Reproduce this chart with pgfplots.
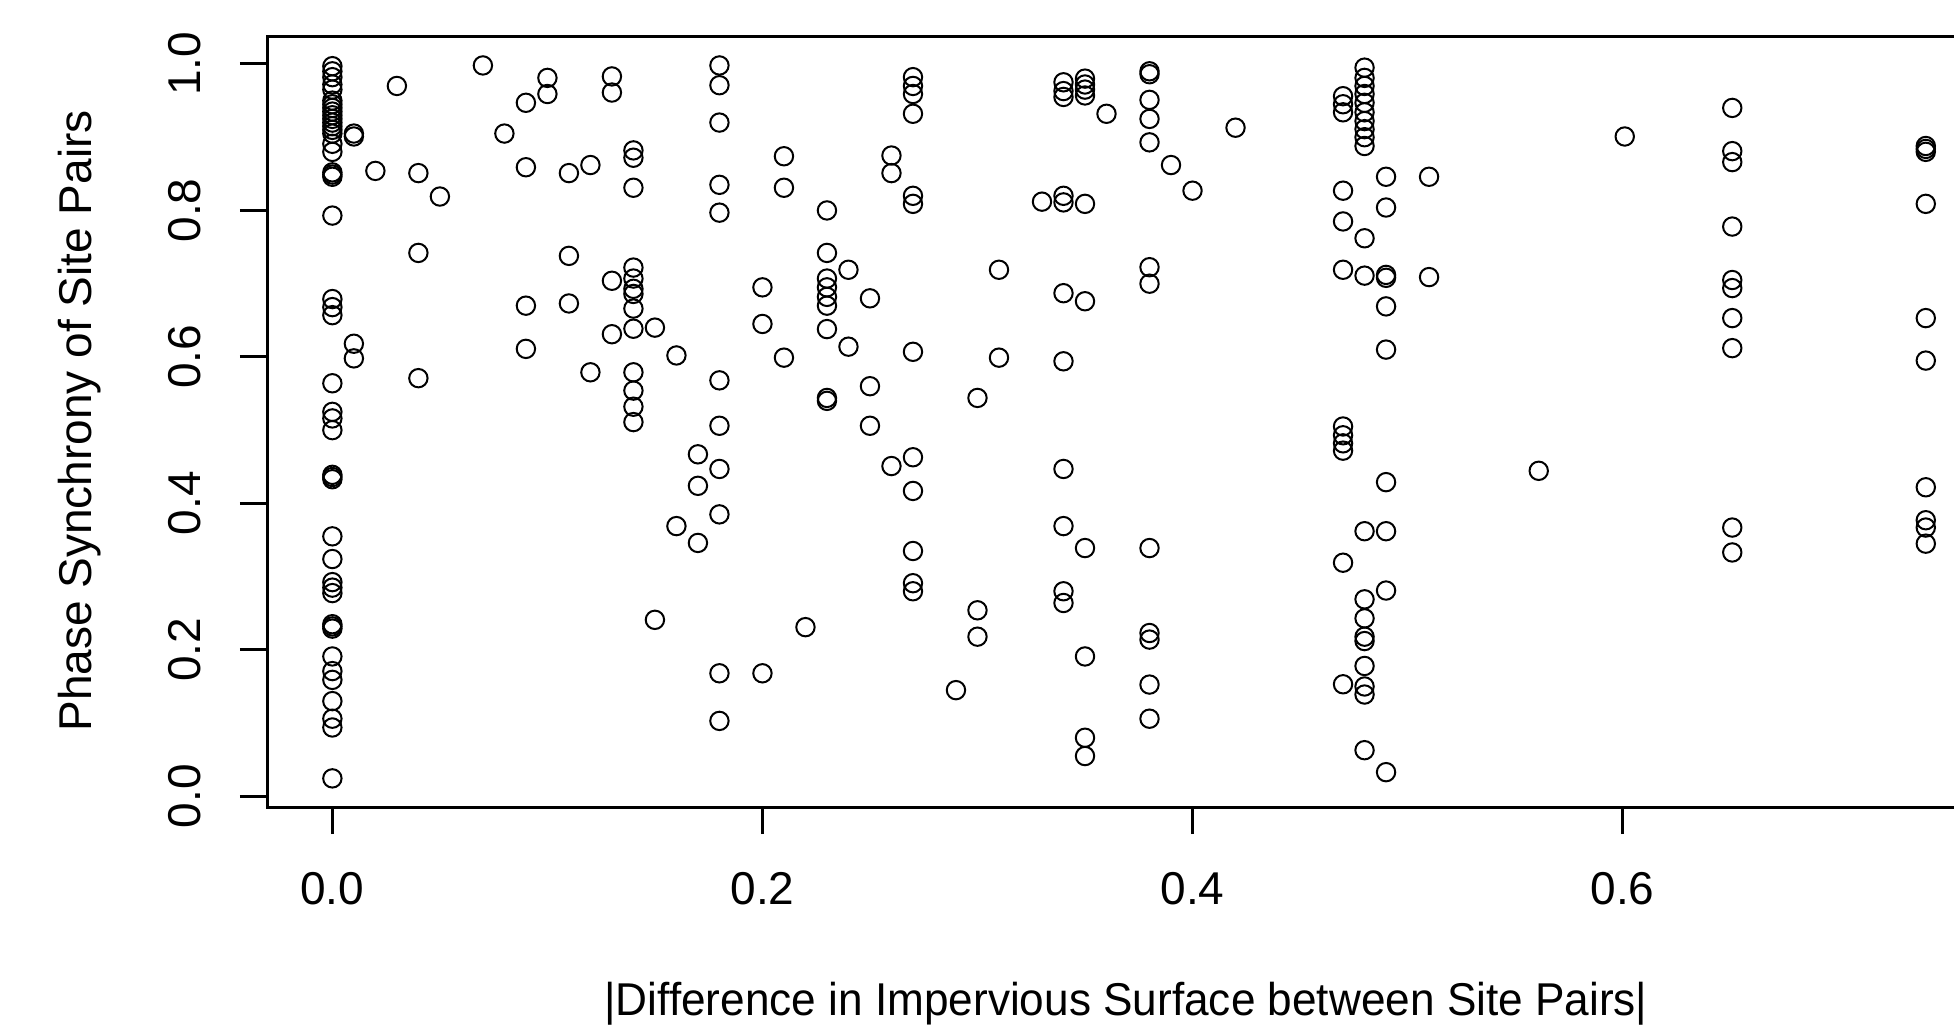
\documentclass[border=0pt]{standalone}
\usepackage{fontspec}
\setmainfont{Liberation Sans}
\usepackage{pgfplots}
\pgfplotsset{compat=1.18}
\newcommand{\lblfont}{\fontsize{11.5pt}{13.8pt}\selectfont}
\begin{document}
\begin{tikzpicture}
\path[use as bounding box] (-66.75pt,-55.75pt) rectangle (421.75pt,201.75pt);
\clip (-66.75pt,-55.75pt) rectangle (421.75pt,201.75pt);
\begin{axis}[
  at={(0pt,0pt)}, anchor=south west,
  scale only axis, width=441.25pt, height=192.75pt,
  xmin=-0.0304, xmax=0.7904, ymin=-0.0146, ymax=1.0382,
  axis line style={line width=0.75pt},
  every tick/.style={black, line width=0.75pt},
  tick align=outside, major tick length=6.75pt,
  xtick={0,0.2,0.4,0.6}, ytick={0,0.2,0.4,0.6,0.8,1.0},
  xtick pos=left, ytick pos=left,
  minor tick num=0,
  tick label style={font=\lblfont, inner sep=0pt},
  xticklabel style={anchor=north},
  yticklabel style={rotate=90, anchor=south},
  xticklabel shift=9.5pt, yticklabel shift=9.5pt,
  /pgf/number format/.cd, fixed, fixed zerofill, precision=1, assume math mode=true,
  /pgfplots/.cd,
  clip=false,
]
\addplot[only marks, mark=o, mark size=2.3pt, mark options={line width=0.5pt, black}] table {
x y
0 0.997
0 0.990
0 0.982
0 0.972
0 0.965
0 0.950
0 0.945
0 0.940
0 0.935
0 0.930
0 0.925
0 0.920
0 0.915
0 0.910
0 0.905
0 0.891
0 0.880
0 0.852
0 0.849
0 0.846
0 0.793
0 0.679
0 0.668
0 0.657
0 0.564
0 0.525
0 0.516
0 0.500
0 0.439
0 0.436
0 0.433
0 0.355
0 0.324
0 0.2925
0 0.285
0 0.2775
0 0.235
0 0.232
0 0.229
0 0.191
0 0.171
0 0.159
0 0.130
0 0.106
0 0.094
0 0.0245
0.01 0.905
0.01 0.901
0.01 0.618
0.01 0.598
0.02 0.854
0.03 0.970
0.04 0.851
0.04 0.742
0.04 0.571
0.05 0.819
0.07 0.998
0.08 0.905
0.09 0.947
0.09 0.859
0.09 0.670
0.09 0.611
0.10 0.981
0.10 0.959
0.11 0.851
0.11 0.738
0.11 0.673
0.12 0.862
0.12 0.579
0.13 0.983
0.13 0.961
0.13 0.704
0.13 0.631
0.14 0.882
0.14 0.872
0.14 0.831
0.14 0.722
0.14 0.707
0.14 0.693
0.14 0.686
0.14 0.666
0.14 0.6385
0.14 0.579
0.14 0.554
0.14 0.532
0.14 0.511
0.15 0.640
0.15 0.241
0.16 0.602
0.16 0.369
0.17 0.467
0.17 0.424
0.17 0.346
0.18 0.998
0.18 0.971
0.18 0.920
0.18 0.835
0.18 0.797
0.18 0.568
0.18 0.506
0.18 0.447
0.18 0.385
0.18 0.168
0.18 0.103
0.20 0.695
0.20 0.645
0.20 0.168
0.21 0.874
0.21 0.831
0.21 0.599
0.22 0.231
0.23 0.800
0.23 0.742
0.23 0.707
0.23 0.695
0.23 0.682
0.23 0.670
0.23 0.638
0.23 0.544
0.23 0.540
0.24 0.719
0.24 0.614
0.25 0.680
0.25 0.560
0.25 0.506
0.26 0.875
0.26 0.851
0.26 0.451
0.27 0.982
0.27 0.970
0.27 0.959
0.27 0.932
0.27 0.820
0.27 0.809
0.27 0.607
0.27 0.463
0.27 0.417
0.27 0.335
0.27 0.291
0.27 0.280
0.29 0.145
0.30 0.544
0.30 0.254
0.30 0.218
0.31 0.719
0.31 0.599
0.33 0.812
0.34 0.975
0.34 0.963
0.34 0.955
0.34 0.820
0.34 0.811
0.34 0.687
0.34 0.594
0.34 0.447
0.34 0.369
0.34 0.280
0.34 0.264
0.35 0.980
0.35 0.972
0.35 0.965
0.35 0.957
0.35 0.809
0.35 0.676
0.35 0.339
0.35 0.191
0.35 0.080
0.35 0.055
0.36 0.932
0.38 0.990
0.38 0.986
0.38 0.951
0.38 0.925
0.38 0.893
0.38 0.7225
0.38 0.700
0.38 0.339
0.38 0.223
0.38 0.214
0.38 0.1526
0.38 0.106
0.39 0.862
0.40 0.827
0.42 0.913
0.47 0.956
0.47 0.945
0.47 0.934
0.47 0.827
0.47 0.785
0.47 0.719
0.47 0.505
0.47 0.493
0.47 0.482
0.47 0.472
0.47 0.319
0.47 0.153
0.48 0.995
0.48 0.981
0.48 0.970
0.48 0.959
0.48 0.947
0.48 0.934
0.48 0.922
0.48 0.911
0.48 0.900
0.48 0.888
0.48 0.762
0.48 0.711
0.48 0.362
0.48 0.269
0.48 0.243
0.48 0.218
0.48 0.212
0.48 0.178
0.48 0.150
0.48 0.139
0.48 0.063
0.49 0.846
0.49 0.804
0.49 0.712
0.49 0.708
0.49 0.669
0.49 0.610
0.49 0.429
0.49 0.362
0.49 0.281
0.49 0.033
0.51 0.846
0.51 0.709
0.561 0.4445
0.601 0.901
0.651 0.940
0.651 0.881
0.651 0.866
0.651 0.778
0.651 0.705
0.651 0.694
0.651 0.653
0.651 0.612
0.651 0.367
0.651 0.333
0.741 0.888
0.741 0.884
0.741 0.880
0.741 0.809
0.741 0.653
0.741 0.595
0.741 0.422
0.741 0.377
0.741 0.367
0.741 0.345
};
\end{axis}
\node[rotate=90, anchor=base, font=\lblfont, inner sep=0pt] at (-43.75pt,96.5pt) {Phase Synchrony of Site Pairs};
\node[anchor=base, font=\lblfont, inner sep=0pt] at (214.75pt,-52pt) {\scalebox{0.96}[1]{|Difference in Impervious Surface between Site Pairs|}};
\end{tikzpicture}
\end{document}
